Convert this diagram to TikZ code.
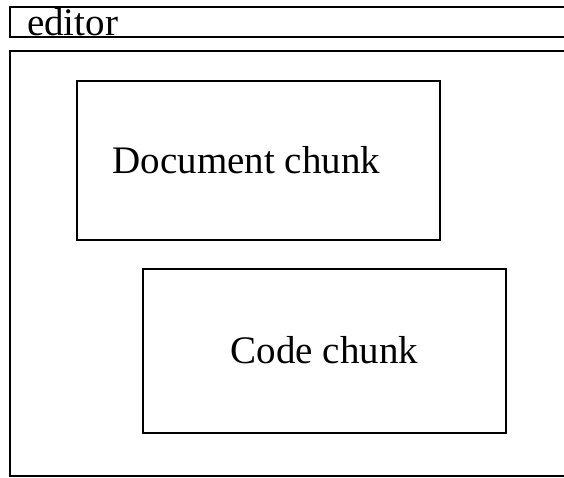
\documentclass[tikz,border=0pt]{standalone}
\usepackage{fontspec}
\setmainfont{Liberation Serif}
\usetikzlibrary{positioning}

\begin{document}
\begin{tikzpicture}[x=1pt, y=-1pt, line width=2pt,
    chunk/.style={draw, rectangle, line width=2pt, minimum width=363pt, inner sep=0pt, font=\fontsize{39}{44}\selectfont}]
      \useasboundingbox (0,0) rectangle (564,477);

      % editor tab
      \draw (564,7) -- (10,7) -- (10,37) -- (564,37);
      \node[anchor=base west, inner sep=0pt, font=\fontsize{39}{44}\selectfont] (title) at (26,35) {editor};

      % editor frame
      \draw (564,51) -- (10,51) -- (10,476) -- (564,476);

      \node[chunk, minimum height=159pt] (doc) at (258.5,160.5) {\hspace*{-24pt}Document chunk};
      \node[chunk, minimum height=164pt] (code) at (324.5,350.5) {Code chunk};
    \end{tikzpicture}
\end{document}
